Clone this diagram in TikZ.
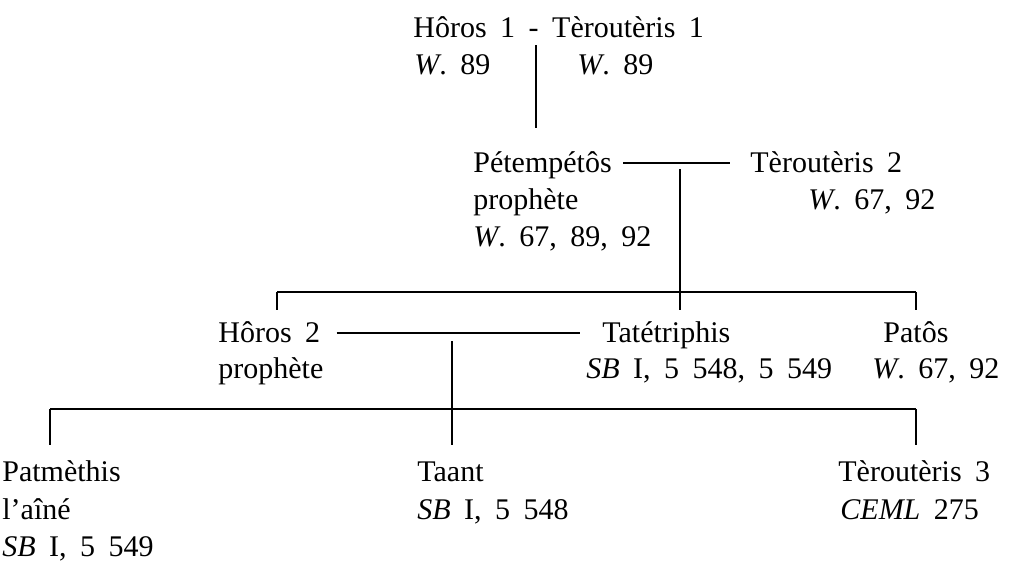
\documentclass[tikz,border=0pt]{standalone}
\usepackage{fontspec}
\setmainfont{Liberation Serif}
\usetikzlibrary{positioning}
\newcommand\genfont{\fontsize{15}{18}\selectfont\spaceskip=0.45em\relax}

\begin{document}
\begin{tikzpicture}[x=0.5pt,y=-0.5pt,
    person/.style={anchor=base west, inner sep=0pt, font=\genfont},
    link/.style={line width=1.1pt}]
    \useasboundingbox (0,0) rectangle (1016,564);
    % first generation
    \node[person] (horos1) at (413,37) {Hôros 1 - Tèroutèris 1};
    \node[person] (horos1ref) at (414,74) {\textit{W}.\ 89};
    \node[person] (ter1ref) at (577,74) {\textit{W}.\ 89};
    % second generation
    \node[person] (pete) at (473,172) {Pétempétôs};
    \node[person] (petetitle) at (473,209) {prophète};
    \node[person] (peteref) at (473,246) {\textit{W}.\ 67, 89, 92};
    \node[person] (ter2) at (750,172) {Tèroutèris 2};
    \node[person] (ter2ref) at (808,209) {\textit{W}.\ 67, 92};
    % third generation
    \node[person] (horos2) at (218,342) {Hôros 2};
    \node[person] (horos2title) at (218,378) {prophète};
    \node[person] (tate) at (602,342) {Tatétriphis};
    \node[person] (tateref) at (586,378) {\textit{SB} I, 5 548, 5 549};
    \node[person] (patos) at (883,342) {Patôs};
    \node[person] (patosref) at (872,378) {\textit{W}.\ 67, 92};
    % fourth generation
    \node[person] (patm) at (2,481) {Patmèthis};
    \node[person] (patmtitle) at (2,519) {l'aîné};
    \node[person] (patmref) at (2,556) {\textit{SB} I, 5 549};
    \node[person] (taant) at (417,481) {Taant};
    \node[person] (taantref) at (417,519) {\textit{SB} I, 5 548};
    \node[person] (ter3) at (838,481) {Tèroutèris 3};
    \node[person] (ter3ref) at (840,519) {\textit{CEML} 275};

    % couples and lines of descent
    \coordinate (down1a) at (536,45);
    \coordinate (down1b) at (536,128);
    \draw[link] (down1a) -- (down1b);

    \coordinate (wed2) at (680,163);
    \draw[link, shorten <=5.5pt, shorten >=10pt] (pete.east |- wed2) -- (ter2.west |- wed2);
    \coordinate (bar2) at (680,292);
    \draw[link] ([yshift=-3pt]wed2) -- (bar2);
    \coordinate (bar2l) at (277,292);
    \coordinate (bar2r) at (916,292);
    \draw[link] (bar2l) -- (bar2r);
    \foreach \c in {bar2l,bar2,bar2r}
        \draw[link] (\c) -- ++(0,18);

    \coordinate (wed3) at (452,333);
    \draw[link, shorten <=8pt, shorten >=11pt] (horos2.east |- wed3) -- (tate.west |- wed3);
    \coordinate (bar3) at (452,409);
    \draw[link] ([yshift=-4pt]wed3) -- (bar3);
    \coordinate (bar3l) at (50,409);
    \coordinate (bar3r) at (916,409);
    \draw[link] (bar3l) -- (bar3r);
    \foreach \c in {bar3l,bar3,bar3r}
        \draw[link] (\c) -- ++(0,36);
\end{tikzpicture}
\end{document}
